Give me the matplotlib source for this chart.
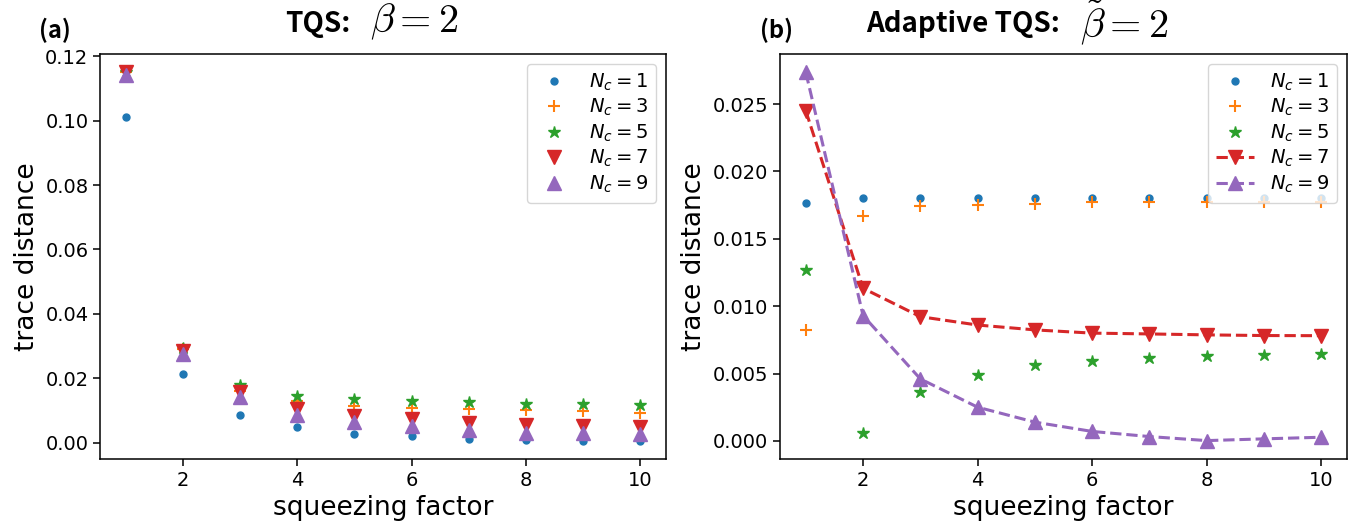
import matplotlib.pyplot as plt
import numpy as np

# squeezing factor
x = np.arange(1, 11)
labels = [r"$N_c=1$", r"$N_c=3$", r"$N_c=5$", r"$N_c=7$", r"$N_c=9$"]

# (a) TQS, beta = 2
tqs_nc1 = [0.1012, 0.0212, 0.0084, 0.0047, 0.0028, 0.0019, 0.0012, 0.0009, 0.0006, 0.0006]
tqs_nc3 = [0.1150, 0.0290, 0.0160, 0.0128, 0.0112, 0.0106, 0.0103, 0.0100, 0.0097, 0.0093]
tqs_nc5 = [0.1150, 0.0293, 0.0180, 0.0146, 0.0134, 0.0128, 0.0125, 0.0121, 0.0121, 0.0118]
tqs_nc7 = [0.1150, 0.0283, 0.0156, 0.0103, 0.0081, 0.0072, 0.0062, 0.0056, 0.0050, 0.0047]
tqs_nc9 = [0.1143, 0.0274, 0.0140, 0.0087, 0.0065, 0.0050, 0.0040, 0.0031, 0.0031, 0.0028]

# (b) adaptive TQS, beta~ = 2
ad_nc1 = [0.01766, 0.0180, 0.0180, 0.0180, 0.0180, 0.0180, 0.0180, 0.0180, 0.0180, 0.0180]
ad_nc3 = [0.00826, 0.01667, 0.01741, 0.01751, 0.01759, 0.0177, 0.0177, 0.0177, 0.0177, 0.0177]
ad_nc5 = [0.0127, 0.00057, 0.0036, 0.0049, 0.0056, 0.00596, 0.00613, 0.00628, 0.00638, 0.00645]
ad_nc7 = [0.0245, 0.01133, 0.00922, 0.0086, 0.00824, 0.0080, 0.00794, 0.00787, 0.00782, 0.00781]
ad_nc9 = [0.02736, 0.0093, 0.0046, 0.0025, 0.00139, 0.0007, 0.00032, 0.00002, 0.00015, 0.00027]

plt.rcParams['font.size'] = 14
plt.rcParams['axes.linewidth'] = 1.1
plt.rcParams['xtick.major.size'] = 4.9
plt.rcParams['ytick.major.size'] = 4.9
plt.rcParams['xtick.major.width'] = 1.1
plt.rcParams['ytick.major.width'] = 1.1

fig = plt.figure(figsize=(13.63, 5.29), dpi=100)
ax1 = fig.add_axes([0.0734, 0.1323, 0.4152, 0.7657])
ax2 = fig.add_axes([0.5723, 0.1323, 0.4160, 0.7657])

mk = dict(ms_dot=10, ms_plus=8, ms_star=9, ms_tri=10)

# panel (a): markers only
ax1.plot(x, tqs_nc1, ".", color="C0", ms=mk['ms_dot'], label=labels[0])
ax1.plot(x, tqs_nc3, "+", color="C1", ms=mk['ms_plus'], mew=1.5, label=labels[1])
ax1.plot(x, tqs_nc5, "*", color="C2", ms=mk['ms_star'], label=labels[2])
ax1.plot(x, tqs_nc7, "v", color="C3", ms=mk['ms_tri'], label=labels[3])
ax1.plot(x, tqs_nc9, "^", color="C4", ms=mk['ms_tri'], label=labels[4])

# panel (b): last two with dashed lines
ax2.plot(x, ad_nc1, ".", color="C0", ms=mk['ms_dot'], label=labels[0])
ax2.plot(x, ad_nc3, "+", color="C1", ms=mk['ms_plus'], mew=1.5, label=labels[1])
ax2.plot(x, ad_nc5, "*", color="C2", ms=mk['ms_star'], label=labels[2])
ax2.plot(x, ad_nc7, "v--", color="C3", ms=mk['ms_tri'], lw=2.2, label=labels[3])
ax2.plot(x, ad_nc9, "^--", color="C4", ms=mk['ms_tri'], lw=2.2, label=labels[4])

for ax in (ax1, ax2):
    ax.set_xlabel("squeezing factor", fontsize=19)
    ax.set_ylabel("trace distance", fontsize=19)
    ax.set_xticks([2, 4, 6, 8, 10])
    ax.legend(loc="upper right", fontsize=14, labelspacing=0.22)

ax1.set_yticks([0.0, 0.02, 0.04, 0.06, 0.08, 0.10, 0.12])
ax1.set_yticklabels(["0.00", "0.02", "0.04", "0.06", "0.08", "0.10", "0.12"])
ax2.set_yticks([0.0, 0.005, 0.010, 0.015, 0.020, 0.025])

# panel titles and letters
tfont = ["Noto Sans CJK SC", "DejaVu Sans"]
fig.text(55 / 1363, 1 - 30 / 529, "(a)", family=tfont, fontsize=17, weight="bold",
         ha="center", va="center")
fig.text(350 / 1363, 1 - 24 / 529, "TQS:", family=tfont, fontsize=20, weight="bold",
         ha="right", va="center")
fig.text(370 / 1363, 1 - 22 / 529, r"$\beta=2$", fontsize=29, math_fontfamily="cm",
         ha="left", va="center")
fig.text(777 / 1363, 1 - 30 / 529, "(b)", family=tfont, fontsize=17, weight="bold",
         ha="center", va="center")
fig.text(1060 / 1363, 1 - 24 / 529, "Adaptive TQS:", family=tfont, fontsize=20, weight="bold",
         ha="right", va="center")
fig.text(1080 / 1363, 1 - 22 / 529, r"$\tilde{\beta}=2$", fontsize=29, math_fontfamily="cm",
         ha="left", va="center")

plt.savefig("out.png", dpi=100)
